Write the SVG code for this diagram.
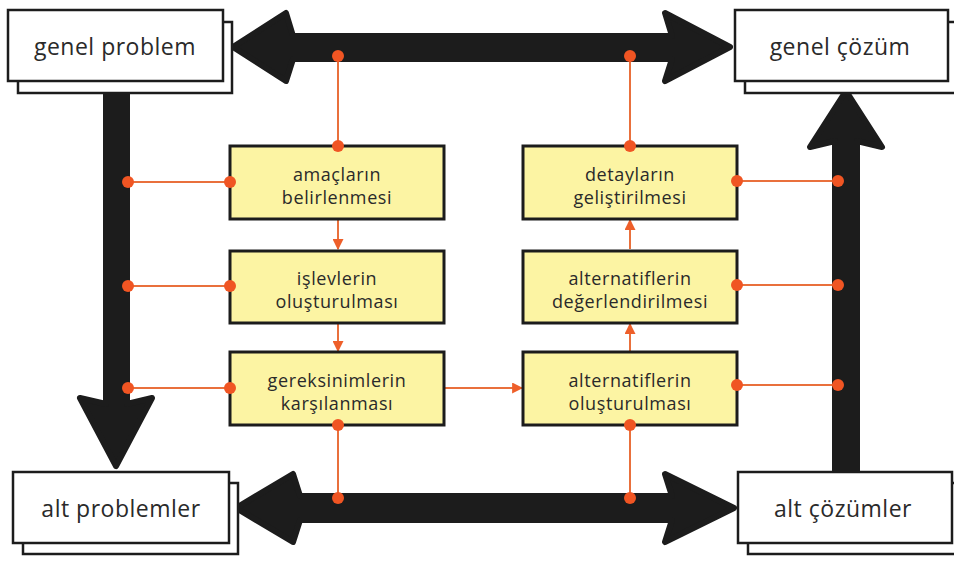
<svg xmlns="http://www.w3.org/2000/svg" width="954" height="561" viewBox="0 0 954 561">
  <defs>
    <style>
      .big { fill: #1c1c1c; stroke: #1c1c1c; stroke-width: 6; stroke-linejoin: round; }
      .card { fill: #ffffff; stroke: #1c1c1c; stroke-width: 2.5; }
      .step { fill: #fcf4a3; stroke: #1c1c1c; stroke-width: 3; }
      .lbl { font-family: "Open Sans", "Noto Sans", sans-serif; font-size: 23px; letter-spacing: 0.5px; fill: #2a2a2a; text-anchor: middle; }
      .slbl { font-family: "Open Sans", "Noto Sans", sans-serif; font-size: 18px; letter-spacing: 0.6px; fill: #2a2a2a; text-anchor: middle; }
      .wire { stroke: #e9703c; stroke-width: 2; fill: none; }
      .dot { fill: #f05523; }
    </style>
    <marker id="tip" viewBox="0 0 10 10" refX="9" refY="5" markerWidth="5.5" markerHeight="5.5" orient="auto" markerUnits="strokeWidth">
      <path d="M0,0 L10,5 L0,10 z" fill="#ee5f2a"/>
    </marker>
  </defs>

  <!-- heavy black arrows -->
  <g id="flows">
    <polygon class="big" points="233,47 286,13 293,36 672,36 665,13 730,47 665,81 672,59 293,59 286,81"/>
    <polygon class="big" points="236,508 293,474 300,496 672,496 665,474 734,508 665,542 672,520 300,520 293,542"/>
    <polygon class="big" points="106,88 127,88 127,404 152,398 116,466 80,398 106,404"/>
    <polygon class="big" points="846,91 882,147 857,141 857,472 835,472 835,141 810,147"/>
  </g>

  <!-- corner cards -->
  <g id="genel-problem">
    <rect class="card" x="18" y="22" width="214" height="71"/>
    <rect class="card" x="8" y="10" width="215" height="71"/>
    <text class="lbl" x="115" y="55">genel problem</text>
  </g>
  <g id="genel-cozum">
    <rect class="card" x="745" y="22" width="214" height="71"/>
    <rect class="card" x="735" y="10" width="213" height="71"/>
    <text class="lbl" x="840" y="55">genel çözüm</text>
  </g>
  <g id="alt-problemler">
    <rect class="card" x="23" y="483" width="215" height="71"/>
    <rect class="card" x="13" y="472" width="216" height="71"/>
    <text class="lbl" x="121" y="517">alt problemler</text>
  </g>
  <g id="alt-cozumler">
    <rect class="card" x="748" y="483" width="214" height="71"/>
    <rect class="card" x="738" y="472" width="214" height="71"/>
    <text class="lbl" x="843" y="517">alt çözümler</text>
  </g>

  <!-- orange connectors -->
  <g id="connectors">
    <line class="wire" x1="338" y1="56" x2="338" y2="146"/>
    <line class="wire" x1="630" y1="56" x2="630" y2="146"/>
    <line class="wire" x1="338" y1="425" x2="338" y2="498"/>
    <line class="wire" x1="630" y1="425" x2="630" y2="498"/>

    <line class="wire" x1="128" y1="182" x2="230" y2="182"/>
    <line class="wire" x1="128" y1="286" x2="230" y2="286"/>
    <line class="wire" x1="128" y1="388" x2="230" y2="388"/>
    <line class="wire" x1="737" y1="181" x2="838" y2="181"/>
    <line class="wire" x1="737" y1="285" x2="838" y2="285"/>
    <line class="wire" x1="737" y1="385" x2="838" y2="385"/>

    <line class="wire" x1="338" y1="220" x2="338" y2="249" marker-end="url(#tip)"/>
    <line class="wire" x1="338" y1="324" x2="338" y2="351" marker-end="url(#tip)"/>
    <line class="wire" x1="630" y1="351" x2="630" y2="324" marker-end="url(#tip)"/>
    <line class="wire" x1="630" y1="249" x2="630" y2="220" marker-end="url(#tip)"/>
    <line class="wire" x1="441" y1="388" x2="522" y2="388" marker-end="url(#tip)"/>
  </g>

  <!-- process steps -->
  <g id="amaclarin-belirlenmesi">
    <rect class="step" x="230" y="146" width="214" height="73"/>
    <text class="slbl" x="337" y="181">amaçların</text>
    <text class="slbl" x="337" y="204">belirlenmesi</text>
  </g>
  <g id="islevlerin-olusturulmasi">
    <rect class="step" x="230" y="251" width="214" height="72"/>
    <text class="slbl" x="337" y="285">işlevlerin</text>
    <text class="slbl" x="337" y="308">oluşturulması</text>
  </g>
  <g id="gereksinimlerin-karsilanmasi">
    <rect class="step" x="230" y="352" width="214" height="73"/>
    <text class="slbl" x="337" y="387">gereksinimlerin</text>
    <text class="slbl" x="337" y="410">karşılanması</text>
  </g>
  <g id="detaylarin-gelistirilmesi">
    <rect class="step" x="523" y="146" width="214" height="73"/>
    <text class="slbl" x="630" y="181">detayların</text>
    <text class="slbl" x="630" y="204">geliştirilmesi</text>
  </g>
  <g id="alternatiflerin-degerlendirilmesi">
    <rect class="step" x="523" y="251" width="214" height="72"/>
    <text class="slbl" x="630" y="285">alternatiflerin</text>
    <text class="slbl" x="630" y="308">değerlendirilmesi</text>
  </g>
  <g id="alternatiflerin-olusturulmasi">
    <rect class="step" x="523" y="352" width="214" height="73"/>
    <text class="slbl" x="630" y="387">alternatiflerin</text>
    <text class="slbl" x="630" y="410">oluşturulması</text>
  </g>

  <!-- junction dots -->
  <g id="dots">
    <circle class="dot" cx="338" cy="56" r="6"/>
    <circle class="dot" cx="630" cy="56" r="6"/>
    <circle class="dot" cx="338" cy="146" r="6"/>
    <circle class="dot" cx="630" cy="146" r="6"/>
    <circle class="dot" cx="338" cy="425" r="6"/>
    <circle class="dot" cx="630" cy="425" r="6"/>
    <circle class="dot" cx="338" cy="498" r="6"/>
    <circle class="dot" cx="630" cy="498" r="6"/>
    <circle class="dot" cx="128" cy="182" r="6"/>
    <circle class="dot" cx="128" cy="286" r="6"/>
    <circle class="dot" cx="128" cy="388" r="6"/>
    <circle class="dot" cx="230" cy="182" r="6"/>
    <circle class="dot" cx="230" cy="286" r="6"/>
    <circle class="dot" cx="230" cy="388" r="6"/>
    <circle class="dot" cx="737" cy="181" r="6"/>
    <circle class="dot" cx="737" cy="285" r="6"/>
    <circle class="dot" cx="737" cy="385" r="6"/>
    <circle class="dot" cx="838" cy="181" r="6"/>
    <circle class="dot" cx="838" cy="285" r="6"/>
    <circle class="dot" cx="838" cy="385" r="6"/>
  </g>
</svg>
